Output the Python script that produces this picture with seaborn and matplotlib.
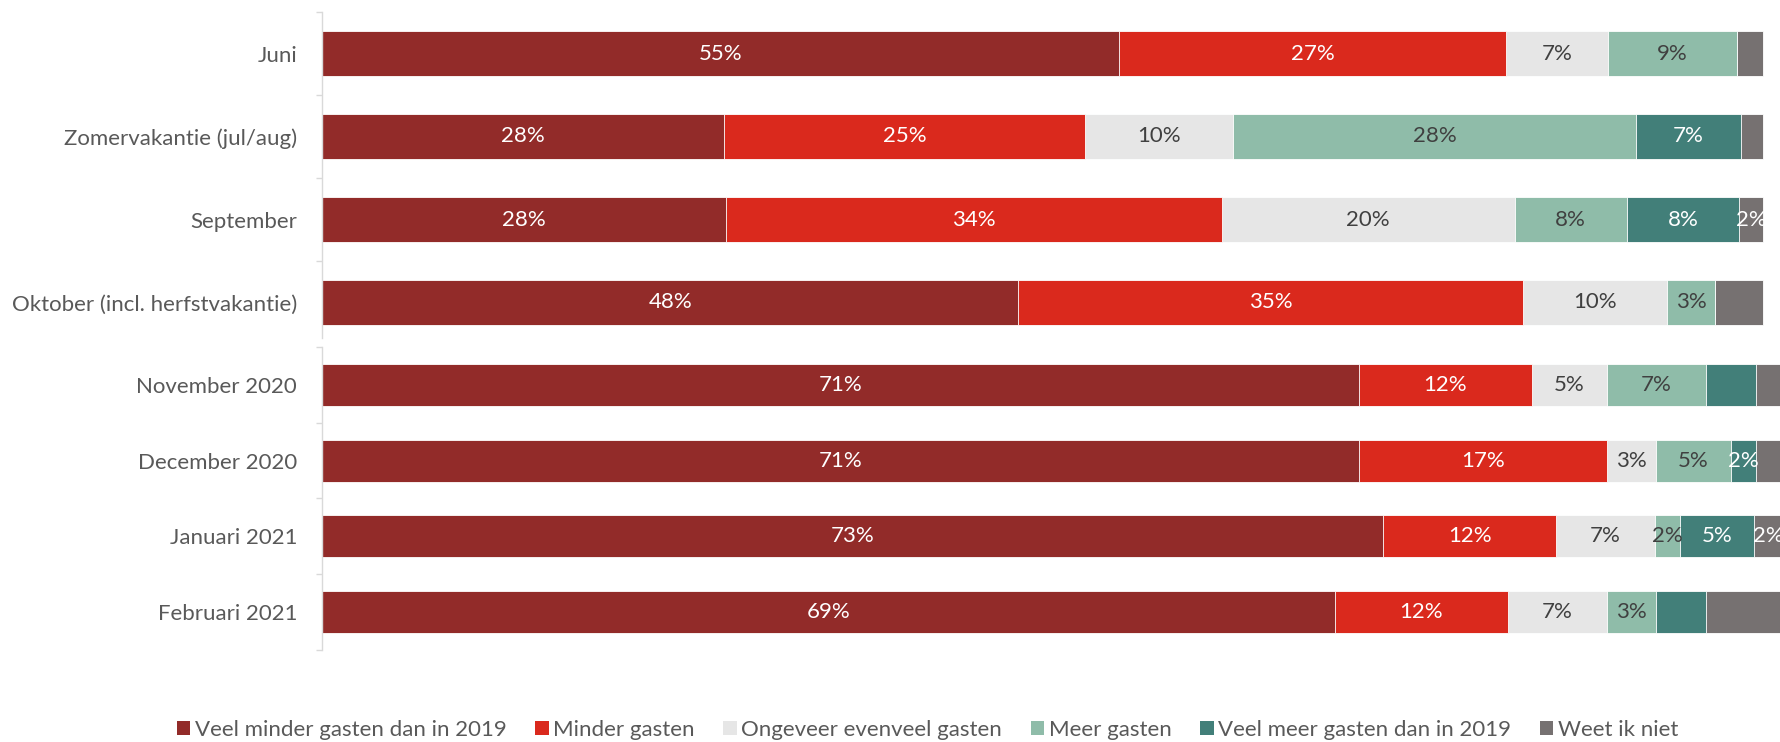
import matplotlib
matplotlib.use('Agg')
import matplotlib.pyplot as plt
from matplotlib.patches import Patch
import seaborn as sns
import numpy as np
import pandas as pd

# categories
cats_top = ['Juni', 'Zomervakantie (jul/aug)', 'September', 'Oktober (incl. herfstvakantie)']
cats_bot = ['November 2020', 'December 2020', 'Januari 2021', 'Februari 2021']

series = ['Veel minder gasten dan in 2019', 'Minder gasten', 'Ongeveer evenveel gasten',
          'Meer gasten', 'Veel meer gasten dan in 2019', 'Weet ik niet']
colors = ['#922B29', '#DA291D', '#E6E6E6', '#8FBCA9', '#427F79', '#767171']
text_colors = ['white', 'white', '#404040', '#404040', 'white', 'white']

# shares in % (top block: June - October)
veel_minder_top = [55.3, 27.9, 28.0, 48.3]
minder_top = [26.8, 25.0, 34.4, 35.0]
evenveel_top = [7.1, 10.3, 20.3, 10.0]
meer_top = [8.9, 27.9, 7.8, 3.3]
veel_meer_top = [0.0, 7.3, 7.8, 0.0]
weet_top = [1.8, 1.5, 1.6, 3.3]

# shares in % (bottom block: November - February)
veel_minder_bot = [71.0, 71.0, 72.7, 69.4]
minder_bot = [11.9, 17.0, 11.8, 11.8]
evenveel_bot = [5.1, 3.4, 6.8, 6.8]
meer_bot = [6.8, 5.1, 1.7, 3.4]
veel_meer_bot = [3.4, 1.7, 5.1, 3.4]
weet_bot = [1.8, 1.8, 1.9, 5.2]

# which data labels are shown (one row per series)
show_top = [[1, 1, 1, 1], [1, 1, 1, 1], [1, 1, 1, 1], [1, 1, 1, 1], [0, 1, 1, 0], [0, 0, 1, 0]]
show_bot = [[1, 1, 1, 1], [1, 1, 1, 1], [1, 1, 1, 1], [1, 1, 1, 1], [0, 1, 1, 0], [0, 0, 1, 0]]

sns.set_theme(style='white')
plt.rcParams['font.family'] = ['Lato', 'DejaVu Sans']
FS = 16
GREY = '#595959'


def draw_block(ax, cats, values, show, bar_w, ylim):
    values = np.array(values)
    cum = np.cumsum(values, axis=0)
    # stacked bars: draw cumulative totals from the last series to the first
    for k in range(len(series) - 1, -1, -1):
        df = pd.DataFrame({'cat': cats, 'val': cum[k]})
        sns.barplot(data=df, x='val', y='cat', order=cats, orient='h', color=colors[k],
                    saturation=1, width=bar_w, errorbar=None, edgecolor='white',
                    linewidth=0.6, ax=ax)
    for k in range(len(series)):
        for i in range(len(cats)):
            v = values[k, i]
            if show[k][i] and v > 0:
                ax.text(cum[k, i] - v / 2, i, f'{round(v)}%', ha='center', va='center',
                        color=text_colors[k], fontsize=FS, clip_on=True)
    ax.set_xticks([])
    ax.set_xlabel('')
    ax.set_ylabel('')
    edges = np.arange(-0.5, len(cats))
    ax.set_yticks(edges[edges <= ylim[0]], minor=True)
    ax.tick_params(axis='y', which='major', length=0, pad=18, labelsize=FS, labelcolor=GREY)
    ax.tick_params(axis='y', which='minor', left=True, length=4.5, width=1,
                   color='#D9D9D9', direction='out')
    ax.set_xlim(0, 100)
    ax.set_ylim(*ylim)
    for s in ['top', 'right', 'bottom']:
        ax.spines[s].set_visible(False)
    ax.spines['left'].set_color('#D9D9D9')
    ax.spines['left'].set_linewidth(1)


fig = plt.figure(figsize=(17.8, 7.42), dpi=100)
ax_top = fig.add_axes([322 / 1780, 1 - 338 / 742, (1764 - 322) / 1780, (338 - 12) / 742])
ax_bot = fig.add_axes([322 / 1780, 1 - 650 / 742, (1782 - 322) / 1780, (650 - 347) / 742])

draw_block(ax_top, cats_top,
           [veel_minder_top, minder_top, evenveel_top, meer_top, veel_meer_top, weet_top],
           show_top, 0.54, (-0.5 + 326 / 83, -0.5))
draw_block(ax_bot, cats_bot,
           [veel_minder_bot, minder_bot, evenveel_bot, meer_bot, veel_meer_bot, weet_bot],
           show_bot, 0.554, (3.5, -0.5))

handles = [Patch(facecolor=c, edgecolor='none') for c in colors]
fig.legend(handles, series, loc='center', bbox_to_anchor=(0.521, 1 - 730 / 742), ncol=6,
           frameon=False, fontsize=16, handlelength=0.6, handleheight=0.6,
           handletextpad=0.2, columnspacing=1.3, labelcolor=GREY)

fig.savefig('out.png', dpi=100)
